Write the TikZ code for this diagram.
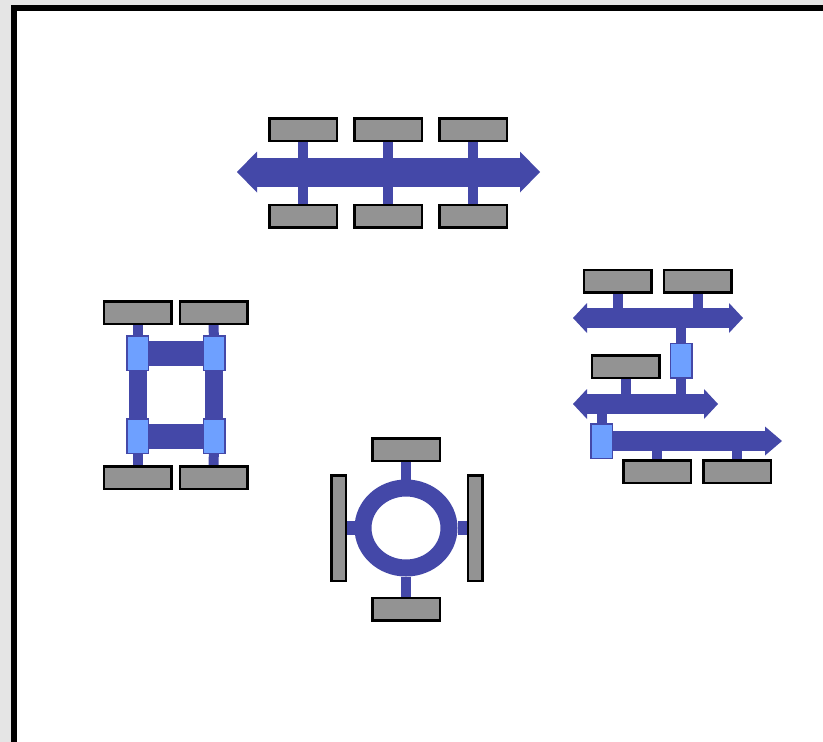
\documentclass[tikz,border=0pt]{standalone}
\usepackage{tikz}
\usetikzlibrary{arrows.meta,shapes.geometric,positioning,calc}
\usepackage{xcolor}
\definecolor{busblue}{RGB}{68,72,168}
\definecolor{bridgeblue}{RGB}{110,160,255}
\definecolor{boxgray}{RGB}{147,147,147}
\definecolor{papergray}{RGB}{229,229,229}
\pgfdeclarelayer{paper}
\pgfdeclarelayer{wires}
\pgfsetlayers{paper,wires,main}

\begin{document}
\begin{tikzpicture}[
  x=1pt, y=-1pt,
  box/.style={rectangle, draw=black, fill=boxgray, line width=2.5pt,
              minimum width=67.5pt, minimum height=22.5pt, inner sep=0pt},
  sidebox/.style={box, minimum width=14.5pt, minimum height=105.5pt},
  bridge/.style={rectangle, draw=busblue, fill=bridgeblue, line width=1.5pt,
                 minimum width=21.5pt, minimum height=34.5pt, inner sep=0pt},
  stub/.style={draw=busblue, line width=10pt},
  bigbus/.style={draw=busblue, line width=29pt,
     {Triangle[length=20pt,width=41pt,line width=0pt]}-{Triangle[length=20pt,width=41pt,line width=0pt]}},
  bus/.style={draw=busblue, line width=20pt,
     {Triangle[length=14pt,width=30pt,line width=0pt]}-{Triangle[length=14pt,width=30pt,line width=0pt]}},
  ring/.style={ellipse, draw=busblue, line width=17pt,
               minimum width=86pt, minimum height=80pt, inner sep=0pt},
]
\useasboundingbox (0,0) rectangle (823,742);
\begin{pgfonlayer}{paper}
  \fill[papergray] (0,0) rectangle (823,742);
  \draw[line width=6pt, fill=white] (14,8) rectangle (829,745);
\end{pgfonlayer}

% Linear bus with six stations
\coordinate (busL) at (237,172);
\coordinate (busR) at (540,172);
\foreach \i/\x in {1/303,2/388,3/473}{
  \node[box] (t\i) at (\x,129.5) {};
  \node[box] (u\i) at (\x,216) {};
}
\begin{pgfonlayer}{wires}
  \draw[bigbus] (busL) -- (busR);
  \foreach \i in {1,2,3}{
    \draw[stub] (t\i) -- (u\i);
  }
\end{pgfonlayer}

% Square of bridges
\node[box] (g1) at (137.5,312.5) {};
\node[box] (g2) at (213.5,312.5) {};
\node[box] (g3) at (137.5,477.5) {};
\node[box] (g4) at (213.5,477.5) {};
\node[bridge] (s1) at (137.5,353) {};
\node[bridge] (s2) at (214,353) {};
\node[bridge] (s3) at (137.5,436) {};
\node[bridge] (s4) at (214,436) {};
\begin{pgfonlayer}{wires}
  \draw[stub] (g1) -- (s1);
  \draw[stub] (g2) -- (s2);
  \draw[stub] (g3) -- (s3);
  \draw[stub] (g4) -- (s4);
  \draw[busblue, line width=25pt] (s1) -- (s2);
  \draw[busblue, line width=25pt] (s3) -- (s4);
  \draw[busblue, line width=18pt] (s1) -- (s3);
  \draw[busblue, line width=18pt] (s2) -- (s4);
\end{pgfonlayer}

% Ring with four stations
\node[ring] (ring) at (406,528) {};
\node[box] (rt) at (406,449.5) {};
\node[box] (rb) at (406,609) {};
\node[sidebox] (rl) at (338.5,528) {};
\node[sidebox] (rr) at (475,528) {};
\begin{pgfonlayer}{wires}
  \draw[stub] (rt) -- (ring.north);
  \draw[stub] (rb) -- (ring.south);
  \draw[stub, line width=14pt] (rl) -- (ring.west);
  \draw[stub, line width=14pt] (rr) -- (ring.east);
\end{pgfonlayer}

% Bridged buses
\coordinate (aL) at (573,318);
\coordinate (aR) at (743,318);
\coordinate (bL) at (573,404);
\coordinate (bR) at (718,404);
\coordinate (cR) at (782,441);
\node[box] (q1) at (617.5,281) {};
\node[box] (q2) at (697.5,281) {};
\node[box] (q3) at (625.5,366.5) {};
\node[box] (q4) at (657,471.5) {};
\node[box] (q5) at (737,471.5) {};
\node[bridge] (p1) at (681,360.5) {};
\node[bridge] (p2) at (601.5,441) {};
\begin{pgfonlayer}{wires}
  \draw[bus] (aL) -- (aR);
  \draw[bus] (bL) -- (bR);
  \draw[bus, -{Triangle[length=17pt,width=29pt,line width=0pt]}] (p2) -- (cR);
  \draw[stub] (q1) -- (q1 |- aL);
  \draw[stub] (q2) -- (q2 |- aL);
  \draw[stub] (p1 |- aL) -- (p1 |- bL);
  \draw[stub] (q3) -- (q3 |- bL);
  \draw[stub] (p2 |- bL) -- (p2);
  \draw[stub] (q4) -- (q4 |- cR);
  \draw[stub] (q5) -- (q5 |- cR);
\end{pgfonlayer}
\end{tikzpicture}
\end{document}
